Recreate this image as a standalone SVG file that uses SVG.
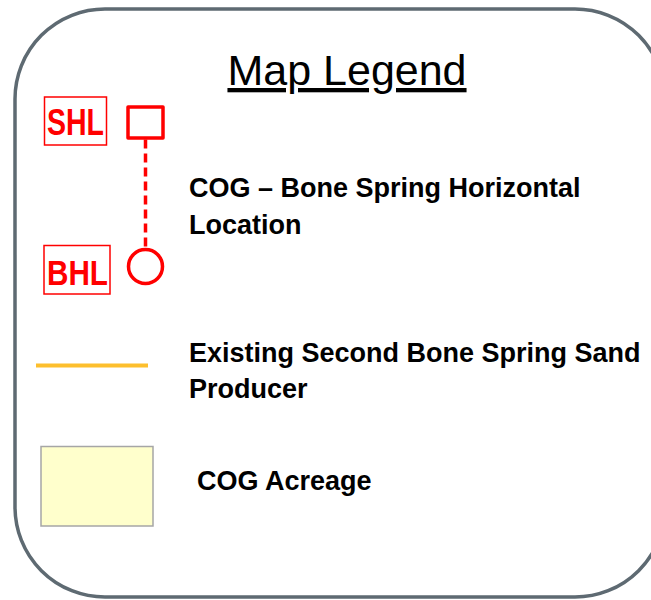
<svg xmlns="http://www.w3.org/2000/svg" width="651" height="600" viewBox="0 0 651 600">
  <style>
    .frame { fill: #ffffff; stroke: #5e6a72; stroke-width: 3.5; }
    .title { font-family: "Liberation Sans", Arial, sans-serif; font-size: 43px; fill: #000; text-anchor: middle; text-decoration: underline; }
    .label { font-family: "Liberation Sans", Arial, sans-serif; font-weight: bold; font-size: 27px; fill: #000; }
    .tag { font-family: "Liberation Sans", Arial, sans-serif; font-weight: bold; fill: #ff0000; }
    .tagbox { fill: none; stroke: #ff0000; stroke-width: 1.5; }
    .sym { fill: #ffffff; stroke: #ff0000; stroke-width: 3.5; stroke-linejoin: round; }
    .dash { stroke: #ff0000; stroke-width: 3.5; stroke-dasharray: 9 5; fill: none; }
  </style>
  <rect class="frame" x="15" y="9" width="650" height="588" rx="90" ry="90"/>
  <g id="title">
    <text class="title" x="347" y="85">Map Legend</text>
  </g>
  <g id="shl">
    <rect class="tagbox" x="44.5" y="97" width="62" height="48"/>
    <text class="tag" x="47" y="135" font-size="36" textLength="57" lengthAdjust="spacingAndGlyphs">SHL</text>
    <rect class="sym" x="128" y="107" width="35" height="31"/>
  </g>
  <g id="connectors">
    <line class="dash" x1="145.5" y1="139.5" x2="145.5" y2="249"/>
  </g>
  <g id="bhl">
    <rect class="tagbox" x="44" y="245.5" width="66" height="48.5"/>
    <text class="tag" x="47" y="285" font-size="35" textLength="61" lengthAdjust="spacingAndGlyphs">BHL</text>
    <circle class="sym" cx="145.5" cy="266.5" r="17"/>
  </g>
  <g id="label-horizontal">
    <text class="label" x="189" y="197">COG – Bone Spring Horizontal</text>
    <text class="label" x="189" y="234">Location</text>
  </g>
  <g id="producer">
    <line x1="36" y1="365.5" x2="148" y2="365.5" stroke="#fdbf2d" stroke-width="4"/>
    <text class="label" x="189" y="362">Existing Second Bone Spring Sand</text>
    <text class="label" x="189" y="398">Producer</text>
  </g>
  <g id="acreage">
    <rect x="41" y="446.5" width="112" height="79.5" fill="#ffffcc" stroke="#a6a6a6" stroke-width="1.5"/>
    <text class="label" x="197" y="490">COG Acreage</text>
  </g>
</svg>
